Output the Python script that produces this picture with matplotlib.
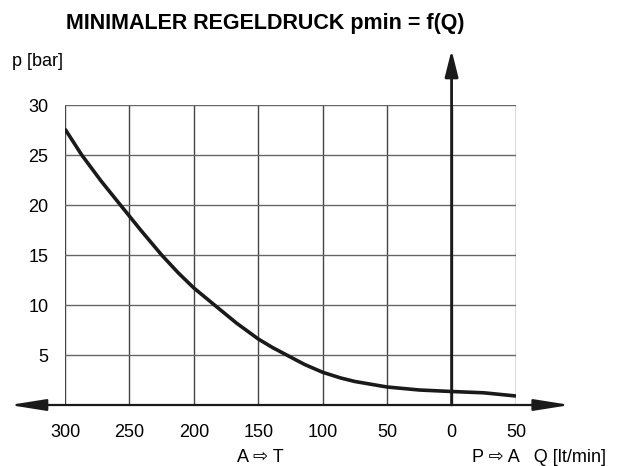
import matplotlib
matplotlib.use("Agg")
import matplotlib.pyplot as plt

# flow Q [lt/min]: positive = A -> T (left), negative = P -> A (right)
q_flow = [300, 287, 272, 257, 241, 225, 212, 200, 184, 167, 150, 139, 128,
          114, 100, 86, 75, 56, 50, 25, 0, -25, -50]
p_min = [27.6, 25.0, 22.4, 20.0, 17.45, 15.0, 13.2, 11.7, 10.0, 8.2, 6.6, 5.75, 5.0,
         4.05, 3.27, 2.7, 2.35, 1.93, 1.8, 1.5, 1.35, 1.22, 0.9]

x_ticks = [300, 250, 200, 150, 100, 50, 0, -50]
x_labels = ["300", "250", "200", "150", "100", "50", "0", "50"]
y_ticks = [5, 10, 15, 20, 25, 30]
y_labels = ["5", "10", "15", "20", "25", "30"]

plt.rcParams["font.family"] = ["Liberation Sans", "DejaVu Sans"]

W, H = 626, 466
fig = plt.figure(figsize=(W / 100, H / 100), dpi=100)
ax = fig.add_axes([65 / W, (H - 405) / H, (516 - 65) / W, (405 - 105) / H])
ax.set_xlim(300, -50)
ax.set_ylim(0, 30)

# grid
for x in x_ticks:
    ax.axvline(x, color="#444444", lw=1.0, zorder=1)
for y in y_ticks:
    ax.axhline(y, color="#666666", lw=1.0, zorder=1)
for s in ax.spines.values():
    s.set_visible(False)

ax.set_xticks(x_ticks)
ax.set_xticklabels(x_labels, fontsize=13)
ax.set_yticks(y_ticks)
ax.set_yticklabels(y_labels, fontsize=13)
ax.tick_params(axis="x", length=0, pad=14)
ax.tick_params(axis="y", length=0, pad=12)

# curve
ax.plot(q_flow, p_min, color="#1a1a1a", lw=2.6, solid_joinstyle="round",
        solid_capstyle="butt", zorder=3)

# axes arrows
ax.annotate("", xy=(-92, 0), xytext=(343, 0), annotation_clip=False,
            arrowprops=dict(arrowstyle="<|-|>,head_length=2.2,head_width=0.35",
                            color="#1a1a1a", lw=1.6, shrinkA=0, shrinkB=0), zorder=4)
ax.annotate("", xy=(0, 35.5), xytext=(0, 0), annotation_clip=False,
            arrowprops=dict(arrowstyle="-|>,head_length=1.6,head_width=0.4",
                            color="#1a1a1a", lw=2.0, shrinkA=0, shrinkB=0), zorder=4)

fig.text(265 / W, 1 - 23 / H, "MINIMALER REGELDRUCK pmin = f(Q)", ha="center", va="center",
         fontsize=15.5, fontweight="bold")
fig.text(12 / W, 1 - 62 / H, "p [bar]", ha="left", va="center", fontsize=13)
fig.text(260 / W, 1 - 457 / H, "A \u21e8 T", ha="center", va="center", fontsize=13)
fig.text(472 / W, 1 - 457 / H, "P \u21e8 A   Q [lt/min]", ha="left", va="center", fontsize=13)

fig.savefig("out.png", dpi=100)
